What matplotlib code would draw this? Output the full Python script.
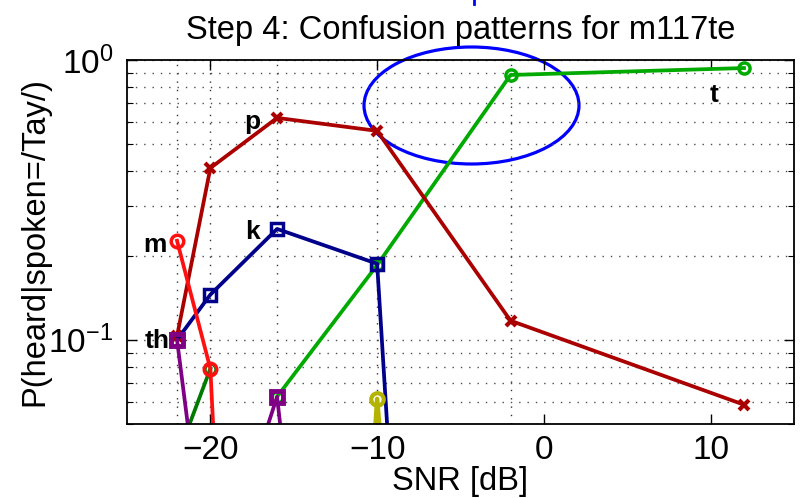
import numpy as np
import matplotlib
matplotlib.use("Agg")
import matplotlib.pyplot as plt
from matplotlib.patches import Ellipse
from matplotlib.lines import Line2D
from matplotlib.ticker import NullFormatter, FixedLocator

plt.rcParams['font.family'] = 'Liberation Sans'
plt.rcParams['mathtext.fontset'] = 'custom'
plt.rcParams['mathtext.rm'] = 'Liberation Sans'
plt.rcParams['axes.unicode_minus'] = True

# SNR values and P(heard|spoken=/Tay/) per heard consonant
snr = [-22, -20, -16, -10, -2, 12]
p_t = [np.nan, np.nan, 0.0626, 0.185, 0.884, 0.936]
p_g2 = [0.038, 0.0788, np.nan, np.nan, np.nan, np.nan]
p_p = [0.103, 0.411, 0.621, 0.558, 0.117, 0.0586]
p_k = [0.1, 0.145, 0.249, 0.187, 4e-9, np.nan]
p_y = [np.nan, np.nan, 1e-7, 0.0615, 1e-7, np.nan]
p_m = [0.226, 0.0788, 1e-6, np.nan, np.nan, np.nan]
p_th = [0.1, 0.0115, 0.0626, 4e-5, np.nan, np.nan]

# label text and where it sits (x, y in data units)
labels = ['p', 'k', 'm', 'th', 't']
label_x = [-17.5, -17.5, -23.3, -23.2, 10.2]
label_y = [0.567, 0.2296, 0.206, 0.0936, 0.708]

fig = plt.figure(figsize=(8, 4.98), dpi=100)
ax = fig.add_axes([127/800, 74/498, 667/800, 364/498])

lw = 2.7
ax.plot(snr, p_t, '-o', color='#00aa00', lw=lw, ms=8, mfc='none', mew=2.5)
ax.plot(snr, p_g2, '-o', color='#007a00', lw=lw, ms=8, mfc='none', mew=2.5)
ax.plot(snr, p_p, '-x', color='#aa0000', lw=lw, ms=7, mew=3)
ax.plot(snr, p_k, '-s', color='#00008a', lw=lw, ms=8, mfc='none', mew=2.5)
ax.plot(snr, p_y, '-o', color='#b3b300', lw=lw + 0.5, ms=9, mfc='none', mew=3)
ax.plot(snr, p_m, '-o', color='#ff1010', lw=lw, ms=9, mfc='none', mew=2.5)
ax.plot(snr, p_th, '-s', color='#800085', lw=lw, ms=8, mfc='none', mew=3.5)

for s, xx, yy in zip(labels, label_x, label_y):
    ax.text(xx, yy, s, fontsize=19, fontweight='bold', ha='center', va='baseline')

ax.set_yscale('log')
ax.set_xlim(-25, 15)
ax.set_ylim(0.05, 1)
ax.xaxis.set_major_locator(FixedLocator([-20, -10, 0, 10]))
ax.yaxis.set_minor_formatter(NullFormatter())
ax.tick_params(which='both', direction='in', top=True, right=True, labelsize=24)
ax.tick_params(which='major', length=7, width=1)
ax.tick_params(which='minor', length=4, width=0.8)
ax.tick_params(axis='x', which='minor', bottom=False, top=False)
ax.tick_params(axis='x', pad=8)
ax.tick_params(axis='y', pad=10)

ax.yaxis.grid(True, which='both', linestyle=(0, (1, 5)), color='0.3', lw=1)
for s in snr[:-1]:
    ax.axvline(s, linestyle=(0, (1, 5)), color='0.2', lw=1, zorder=0)

for sp in ax.spines.values():
    sp.set_linewidth(1.3)

ax.set_title('Step 4: Confusion patterns for m117te', fontsize=23.5, pad=15)
ax.set_xlabel('SNR [dB]', fontsize=23.5, labelpad=0)
ax.set_ylabel('P(heard|spoken=/Tay/)', fontsize=23.5)
ax.yaxis.set_label_coords(-0.115, 0.5)

ax.add_patch(Ellipse((0.5165, 0.875), 0.3223, 0.3214, transform=ax.transAxes,
                     fill=False, ec='blue', lw=2.3, clip_on=False))
fig.add_artist(Line2D([474/800, 474/800], [1, 1 - 4/498], color='blue', lw=2))

fig.savefig('out.png', dpi=100)
